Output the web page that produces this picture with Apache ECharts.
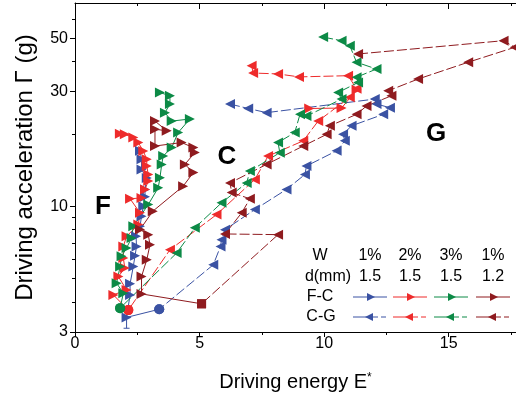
<!DOCTYPE html>
<html><head><meta charset="utf-8">
<script src="https://cdn.jsdelivr.net/npm/echarts@6/dist/echarts.min.js"></script>
<style>html,body{margin:0;padding:0;background:#fff}#c{width:516px;height:398px}</style>
</head><body><div id="c"></div>
<script>
// ---- axis ticks ----
const xTicksMajor = [0, 5, 10, 15];
const xTicksMinor = [2.5, 7.5, 12.5, 17.5];
const yTicksMajor = [3, 10, 30, 50];
const yTicksMinor = [4, 5, 6, 7, 8, 9, 20, 40, 60];
// ---- legend table ----
const legendW = ['1%', '2%', '3%', '1%'];
const legendD = ['1.5', '1.5', '1.5', '1.2'];
const colors = ['#3a52a3', '#ee2b2b', '#0c8a46', '#8f1b1f'];
// ---- data: [E*, Gamma] ----
const blueFC = [[3.38,3.73],[2.07,3.45],[2.21,4.28],[2.21,4.76],[2.34,5.62],[2.41,6.23],[2.47,6.81],[2.45,7.5],[2.61,8.25],[2.67,9.09],[2.74,10.0],[2.81,10.95],[2.81,11.75],[2.88,13.1],[2.67,14.2],[2.67,15.7],[2.61,17.0]];
const blueCG = [[6.22,26.6],[6.95,25.5],[7.69,24.5],[12.03,27.9],[12.1,26.6],[12.64,25.7],[12.37,24.1],[11.1,21.6],[10.76,19.9],[10.83,18.7],[10.5,17.0],[9.29,14.7],[9.23,13.56],[8.49,11.75],[7.22,9.69],[6.02,7.99],[5.88,7.26],[5.84,6.81],[5.55,5.71],[3.38,3.73]];
const blueErr = [[2.07,3.11,3.45]];
const redFC = [[2.14,3.70],[1.54,4.28],[2.07,4.49],[1.74,5.10],[2.0,5.53],[1.94,6.09],[1.94,6.81],[2.07,7.5],[2.54,8.39],[2.61,9.39],[2.21,10.74],[2.67,10.83],[2.81,11.75],[2.94,12.72],[2.94,13.56],[2.88,14.69],[2.88,15.68],[2.74,16.97],[2.54,18.4],[2.34,19.3],[2.0,19.9],[1.8,20.0]];
const redFC2 = [[9.4,25.5],[10.7,25.6],[11.3,30.5]];
const redCG = [[7.09,38.4],[7.15,35.8],[8.15,35.5],[8.99,34.5],[10.96,34.9],[11.3,30.8],[11.03,28.4],[9.76,22.6],[9.16,18.7],[7.75,16.17],[7.22,12.93],[5.68,9.23],[3.81,6.59],[2.14,3.70]];
const greenFC = [[1.81,3.77],[1.94,4.35],[1.67,4.79],[1.81,5.62],[1.87,6.19],[2.07,6.71],[2.27,7.38],[2.34,8.25],[2.94,10.16],[3.34,11.94],[3.41,13.14],[3.48,14.93],[3.54,16.17],[3.88,17.53],[4.14,20.25],[4.61,23.05],[3.88,22.6],[3.61,24.5],[3.81,26.6],[3.81,28.8],[3.41,29.7]];
const greenCG = [[9.96,50.5],[10.7,48.8],[11.03,46.5],[11.3,39.7],[12.1,37.2],[11.3,34.4],[11.36,32.7],[10.56,29.7],[10.7,27.9],[9.29,23.7],[9.03,24.1],[8.82,20.25],[8.15,18.4],[8.22,16.7],[7.02,14.0],[6.89,12.5],[5.88,10.33],[4.81,8.13],[4.08,6.39],[1.81,3.77]];
const dredFC = [[5.08,3.93],[2.67,4.32],[2.67,5.10],[2.88,5.99],[3.01,6.92],[2.94,7.62],[2.61,8.0],[3.12,9.53],[4.34,12.12],[4.75,13.8],[4.41,14.93],[4.81,16.71],[4.75,17.53],[4.28,18.4],[3.21,17.8],[3.21,20.9],[3.68,20.6],[3.21,22.6]];
const dredCG = [[11.36,42.97],[17.2,48.8],[17.65,45.8],[15.78,39.7],[13.77,33.8],[12.57,30.2],[12.7,28.8],[11.7,26.1],[11.3,24.1],[10.23,21.6],[10.1,19.9],[9.16,17.8],[7.69,14.93],[6.22,12.5],[6.29,11.4],[7.02,10.74],[6.69,9.39],[6.02,7.67],[8.15,7.62],[5.08,3.93]];

const L = v => Math.log10(v);
const TRI_R = 'path://M0,0L10,5L0,10Z';
const TRI_L = 'path://M10,0L0,5L10,10Z';
const FONT = '"Liberation Sans", Arial, sans-serif';

function mkSeries(name, pts, color, dir, dashed, startSym, startAt) {
  return {
    name, type: 'line', xAxisIndex: 0, yAxisIndex: 0,
    symbol: dir === 'R' ? TRI_R : TRI_L, symbolSize: [10, 10],
    showSymbol: true, showAllSymbol: true,
    lineStyle: { color, width: 1, type: dashed ? [10, 3] : 'solid' },
    itemStyle: { color },
    z: 3,
    data: pts.map((p, i) => {
      const it = { value: [p[0], L(p[1])] };
      if (startSym && i === startAt) { it.symbol = startSym; it.symbolSize = startSym === 'rect' ? 9 : 10; }
      return it;
    })
  };
}
function errSeries(arr, color) {
  return {
    type: 'custom', xAxisIndex: 0, yAxisIndex: 0, z: 2,
    data: arr.map(d => [d[0], L(d[1]), L(d[2])]),
    renderItem: (params, api) => {
      const a = api.coord([api.value(0), api.value(1)]);
      const b = api.coord([api.value(0), api.value(2)]);
      return { type: 'group', children: [
        { type: 'line', shape: { x1: a[0], y1: a[1], x2: b[0], y2: b[1] }, style: { stroke: color, lineWidth: 1 } },
        { type: 'line', shape: { x1: a[0] - 3, y1: a[1], x2: a[0] + 3, y2: a[1] }, style: { stroke: color, lineWidth: 1 } }
      ]};
    }
  };
}

const series = [
  errSeries(blueErr, colors[0]),
  mkSeries('blue F-C', blueFC, colors[0], 'R', false, 'circle', 0),
  mkSeries('blue C-G', blueCG, colors[0], 'L', true, 'circle', blueCG.length - 1),
  mkSeries('red F-C', redFC, colors[1], 'R', false, 'circle', 0),
  mkSeries('red F-C', redFC2, colors[1], 'R', false, null, -1),
  mkSeries('red C-G', redCG, colors[1], 'L', true, 'circle', redCG.length - 1),
  mkSeries('green F-C', greenFC, colors[2], 'R', false, 'circle', 0),
  mkSeries('green C-G', greenCG, colors[2], 'L', true, 'circle', greenCG.length - 1),
  mkSeries('dred F-C', dredFC, colors[3], 'R', false, 'rect', 0),
  mkSeries('dred C-G', dredCG, colors[3], 'L', true, 'rect', dredCG.length - 1)
];

const axisCol = '#000';
const baseX = { type: 'value', min: 0, max: 17.7, splitLine: { show: false }, axisLine: { onZero: false, lineStyle: { color: axisCol, width: 1 } } };
const baseY = { type: 'value', min: L(3), max: L(70), splitLine: { show: false }, axisLine: { onZero: false, lineStyle: { color: axisCol, width: 1 } } };

// legend graphics
const g = [];
function txt(t, x, y, size, bold) {
  g.push({ type: 'text', z: 100, style: { text: t, x, y, fill: '#000', font: (bold ? 'bold ' : '') + size + 'px ' + FONT, textAlign: 'center', textVerticalAlign: 'middle', align: 'center', verticalAlign: 'middle' } });
}
txt('W', 320, 256, 16); txt('d(mm)', 328, 277, 16); txt('F-C', 320, 297, 16); txt('C-G', 321, 317, 16);
const colX = [370, 410, 451, 493];
colX.forEach((cx, i) => {
  txt(legendW[i], cx, 256, 16); txt(legendD[i], cx, 277, 16);
  g.push({ type: 'line', z: 100, shape: { x1: cx - 17, y1: 297, x2: cx + 17, y2: 297 }, style: { stroke: colors[i], lineWidth: 1 } });
  g.push({ type: 'polygon', z: 101, shape: { points: [[cx - 3, 293], [cx + 5, 297], [cx - 3, 301]] }, style: { fill: colors[i] } });
  g.push({ type: 'line', z: 100, shape: { x1: cx - 17, y1: 317, x2: cx - 3, y2: 317 }, style: { stroke: colors[i], lineWidth: 1 } });
  g.push({ type: 'line', z: 100, shape: { x1: cx + 3, y1: 317, x2: cx + 17, y2: 317 }, style: { stroke: colors[i], lineWidth: 1, lineDash: [5, 3] } });
  g.push({ type: 'polygon', z: 101, shape: { points: [[cx + 3, 313], [cx - 5, 317], [cx + 3, 321]] }, style: { fill: colors[i] } });
});
txt('F', 103, 207, 26, true); txt('C', 227, 157, 26, true); txt('G', 436, 134, 26, true);

const chart = echarts.init(document.getElementById('c'), null, { renderer: 'canvas' });
chart.setOption({
  animation: false,
  backgroundColor: '#fff',
  textStyle: { fontFamily: FONT },
  grid: { left: 75, right: 0, top: 3, bottom: 66, containLabel: false },
  xAxis: [
    Object.assign({}, baseX, { position: 'bottom',
      axisTick: { show: true, length: 5, customValues: xTicksMajor, lineStyle: { color: axisCol } },
      axisLabel: { customValues: xTicksMajor, fontSize: 16, color: '#000', margin: 4, fontFamily: FONT },
      name: 'Driving energy E{sup|*}', nameLocation: 'middle', nameGap: 40,
      nameTextStyle: { fontSize: 20, color: '#000', fontFamily: FONT, rich: { sup: { fontSize: 12, verticalAlign: 'top', fontFamily: FONT, color: '#000' } } } }),
    Object.assign({}, baseX, { position: 'bottom', axisLine: { show: false },
      axisTick: { show: true, length: 3, customValues: xTicksMinor, lineStyle: { color: axisCol } }, axisLabel: { show: false } }),
    Object.assign({}, baseX, { position: 'top',
      axisTick: { show: true, inside: true, length: 6, customValues: [5, 10, 15], lineStyle: { color: axisCol } }, axisLabel: { show: false } }),
    Object.assign({}, baseX, { position: 'top', axisLine: { show: false },
      axisTick: { show: true, inside: true, length: 3, customValues: xTicksMinor, lineStyle: { color: axisCol } }, axisLabel: { show: false } })
  ],
  yAxis: [
    Object.assign({}, baseY, { position: 'left',
      axisTick: { show: true, length: 5, customValues: yTicksMajor.map(L), lineStyle: { color: axisCol } },
      axisLabel: { customValues: yTicksMajor.map(L), fontSize: 16, color: '#000', margin: 7, fontFamily: FONT,
        formatter: v => String(Math.round(Math.pow(10, v))) },
      name: 'Driving acceleration Γ (g)', nameLocation: 'middle', nameGap: 38,
      nameTextStyle: { fontSize: 24, color: '#000', fontFamily: FONT } }),
    Object.assign({}, baseY, { position: 'left', axisLine: { show: false },
      axisTick: { show: true, length: 3, customValues: yTicksMinor.map(L), lineStyle: { color: axisCol } }, axisLabel: { show: false } })
  ],
  series,
  graphic: { elements: g }
});
</script></body></html>
